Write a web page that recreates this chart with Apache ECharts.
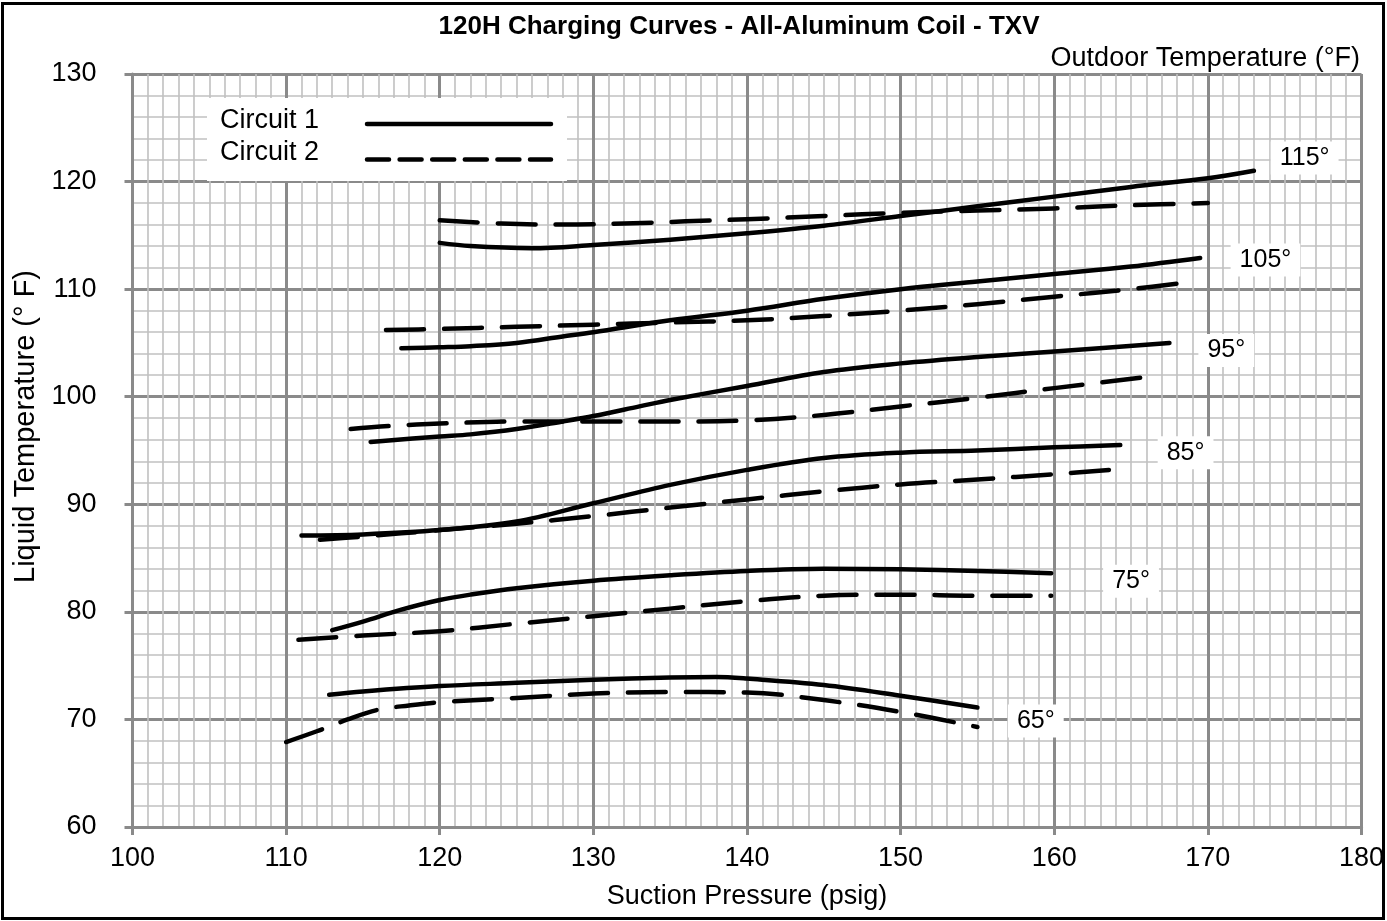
<!DOCTYPE html>
<html><head><meta charset="utf-8">
<script src="https://cdn.jsdelivr.net/npm/echarts@6/dist/echarts.min.js"></script>
<style>html,body{margin:0;padding:0;background:#fff}#c{width:1387px;height:921px}</style>
</head><body><div id="c"></div>
<script>
// ---- data (suction pressure psig, liquid temperature °F) ----
const c1_115 = [[120,114.3],[122,114.0],[126,113.8],[130,114.1],[135,114.6],[140,115.2],[145,115.9],[150,116.8],[155,117.7],[160,118.6],[165,119.5],[170,120.3],[173,121.0]];
const c2_115 = [[120,116.4],[124,116.1],[128,116.0],[132,116.1],[136,116.3],[140,116.5],[145,116.8],[150,117.1],[155,117.3],[160,117.5],[165,117.8],[170,118.0]];
const c1_105 = [[117.5,104.5],[120,104.6],[122,104.7],[125,105.0],[128,105.6],[130,106.0],[135,107.1],[140,108.0],[145,109.1],[150,110.0],[155,110.7],[160,111.4],[165,112.1],[169.5,112.9]];
const c2_105 = [[116.5,106.2],[120,106.3],[125,106.5],[130,106.7],[135,106.9],[140,107.1],[145,107.5],[150,108.0],[155,108.6],[160,109.3],[165,110.0],[168.5,110.6]];
const c1_95 = [[115.5,95.8],[120,96.3],[122,96.5],[125,97.0],[128,97.7],[130,98.2],[133,99.1],[135,99.7],[140,101.0],[145,102.3],[150,103.1],[155,103.7],[160,104.2],[167.5,105.0]];
const c2_95 = [[114.2,97.0],[117,97.3],[120,97.5],[125,97.7],[130,97.7],[135,97.7],[140,97.8],[145,98.3],[150,99.1],[155,99.9],[160,100.8],[166.4,101.9]];
const c1_85 = [[111,87.1],[115,87.2],[120,87.6],[125,88.4],[130,90.1],[135,91.8],[140,93.2],[145,94.3],[150,94.8],[155,95.0],[160,95.3],[164.3,95.5]];
const c2_85 = [[112.2,86.7],[115,87.0],[120,87.6],[125,88.2],[130,88.9],[135,89.7],[140,90.45],[145,91.2],[150,91.85],[155,92.3],[160,92.8],[163.7,93.2]];
const c1_75 = [[113,78.3],[115,79.1],[117.5,80.2],[120,81.1],[122,81.6],[125,82.2],[130,82.9],[135,83.4],[140,83.8],[145,84.0],[150,83.95],[155,83.8],[159.8,83.6]];
const c2_75 = [[110.8,77.4],[115,77.8],[120,78.2],[125,78.9],[130,79.6],[135,80.3],[140,81.0],[145,81.5],[150,81.6],[155,81.5],[159.8,81.5]];
const c1_65 = [[112.8,72.3],[115,72.6],[120,73.1],[125,73.4],[130,73.7],[135,73.9],[138,73.95],[140,73.8],[145,73.2],[150,72.2],[155,71.1]];
const c2_65 = [[110,67.9],[112,68.9],[114,70.0],[116,70.9],[118,71.3],[120,71.6],[125,72.0],[130,72.4],[135,72.55],[140,72.5],[145,71.8],[150,70.7],[155,69.3]];

const circuit1 = [c1_115, c1_105, c1_95, c1_85, c1_75, c1_65];
const circuit2 = [c2_115, c2_105, c2_95, c2_85, c2_75, c2_65];

const labelText = ['115°','105°','95°','85°','75°','65°'];
const labelX = [176.3, 173.75, 171.2, 168.55, 165.0, 158.8];
const labelY = [122.2, 112.7, 104.3, 94.8, 82.85, 69.85];

const legendNames = ['Circuit 1', 'Circuit 2'];
const titleText = '120H Charging Curves - All-Aluminum Coil - TXV';
const xName = 'Suction Pressure (psig)';
const yName = 'Liquid Temperature (° F)';
const cornerNote = 'Outdoor Temperature (°F)';

// ---- chart ----
const FONT = '"Liberation Sans", Arial, Helvetica, sans-serif';
const chart = echarts.init(document.getElementById('c'), null, {renderer: 'canvas'});

const lineBase = {type: 'line', showSymbol: false, symbol: 'none', smooth: 0.35, silent: true, z: 3};
const series = [];
circuit1.forEach(d => series.push(Object.assign({}, lineBase, {
  name: legendNames[0], data: d,
  lineStyle: {color: '#000', width: 4.5, type: 'solid', cap: 'round', join: 'round'}
})));
circuit2.forEach(d => series.push(Object.assign({}, lineBase, {
  name: legendNames[1], data: d,
  lineStyle: {color: '#000', width: 4.5, type: [38, 20], cap: 'round', join: 'round'}
})));
series.push({
  type: 'scatter', name: 'labels', silent: true, z: 4,
  symbolSize: 0, itemStyle: {color: '#fff', opacity: 1},
  data: labelX.map((x, i) => [x, labelY[i], labelText[i]]),
  label: {
    show: true, position: 'inside', formatter: p => p.data[2],
    fontFamily: FONT, fontSize: 25, color: '#000', opacity: 1,
    textBorderWidth: 0, backgroundColor: '#fff', padding: [5, 9, 3, 9]
  }
});

const axisCommon = {
  type: 'value',
  axisLine: {show: true, onZero: false, lineStyle: {color: '#8a8a8a', width: 3}},
  axisTick: {show: true, inside: false, length: 8, lineStyle: {color: '#8a8a8a', width: 3}},
  splitLine: {show: true, lineStyle: {color: '#8a8a8a', width: 3}},
  minorSplitLine: {show: true, lineStyle: {color: '#c0c0c0', width: 1.6}},
  axisLabel: {fontFamily: FONT, fontSize: 27, color: '#000'},
  nameTextStyle: {fontFamily: FONT, fontSize: 27, color: '#000'}
};

chart.setOption({
  animation: false,
  backgroundColor: '#fff',
  title: [
    {text: titleText, left: 734, textAlign: 'center', top: 9,
     textStyle: {fontFamily: FONT, fontSize: 26, fontWeight: 'bold', color: '#000'}},
    {text: cornerNote, right: 22, top: 40,
     textStyle: {fontFamily: FONT, fontSize: 27, fontWeight: 'normal', color: '#000'}}
  ],
  grid: {left: 132.5, right: 23.5, top: 74, bottom: 94, containLabel: false},
  xAxis: Object.assign({}, axisCommon, {
    min: 100, max: 180, interval: 10,
    minorTick: {show: false, splitNumber: 10},
    axisLabel: Object.assign({}, axisCommon.axisLabel, {margin: 18}),
    name: xName, nameLocation: 'middle', nameGap: 56
  }),
  yAxis: Object.assign({}, axisCommon, {
    min: 60, max: 130, interval: 10,
    minorTick: {show: false, splitNumber: 5},
    axisLabel: Object.assign({}, axisCommon.axisLabel, {margin: 36}),
    name: yName, nameLocation: 'middle', nameGap: 88, nameRotate: 90,
    nameTextStyle: {fontFamily: FONT, fontSize: 29, color: '#000', padding: [0, 0, 0, 48]}
  }),
  graphic: [
    {type: 'rect', silent: true, z: 50, shape: {x: 207, y: 98, width: 360, height: 83}, style: {fill: '#fff'}},
    {type: 'text', silent: true, z: 51, x: 220, y: 121,
     style: {text: legendNames[0], font: '27px ' + FONT, fill: '#000', verticalAlign: 'middle'}},
    {type: 'text', silent: true, z: 51, x: 220, y: 153,
     style: {text: legendNames[1], font: '27px ' + FONT, fill: '#000', verticalAlign: 'middle'}},
    {type: 'line', silent: true, z: 51, shape: {x1: 367, y1: 124, x2: 551, y2: 124},
     style: {stroke: '#000', lineWidth: 4.5, lineCap: 'round'}},
    {type: 'line', silent: true, z: 51, shape: {x1: 367, y1: 159.5, x2: 551, y2: 159.5},
     style: {stroke: '#000', lineWidth: 4.5, lineCap: 'round', lineDash: [22, 10.6]}},
    {type: 'rect', silent: true, z: 100,
     shape: {x: 2.5, y: 3.5, width: 1381, height: 915},
     style: {fill: 'none', stroke: '#000', lineWidth: 3}}
  ],
  series: series
});
</script>
</body></html>
